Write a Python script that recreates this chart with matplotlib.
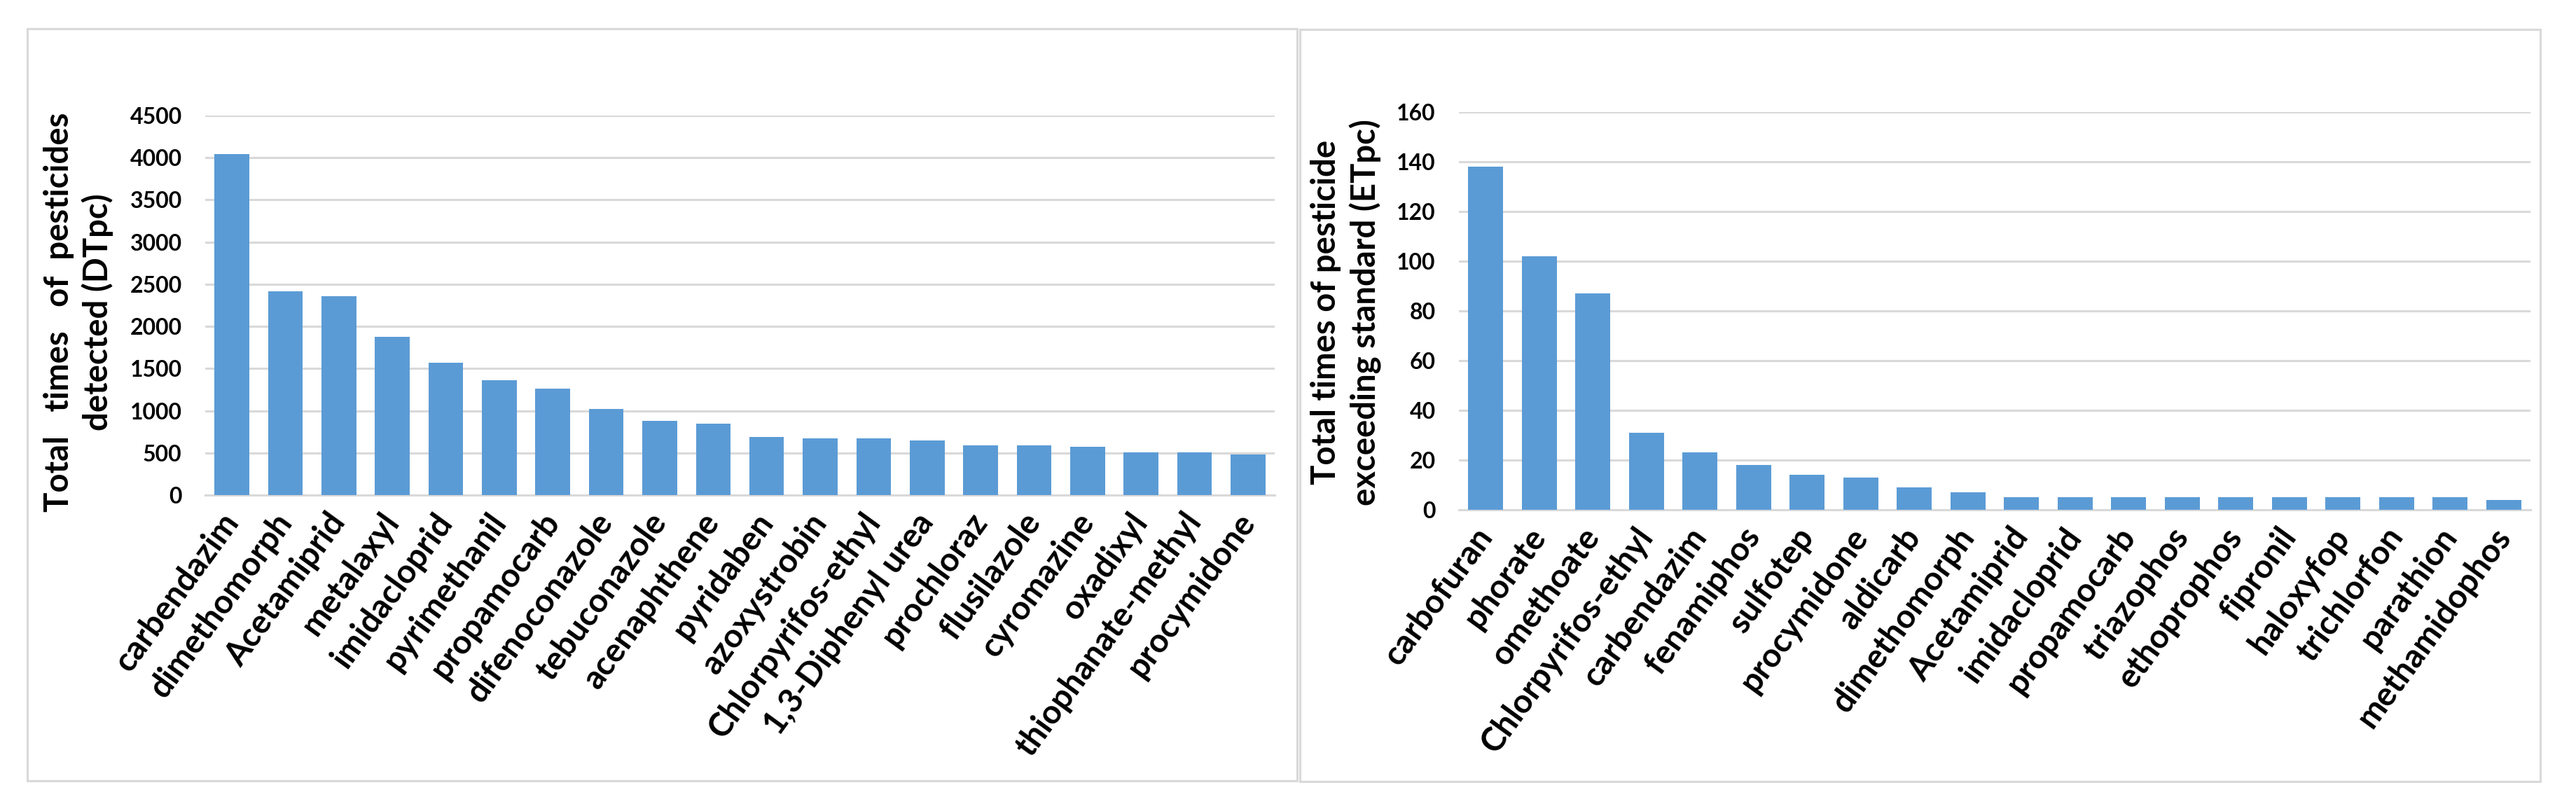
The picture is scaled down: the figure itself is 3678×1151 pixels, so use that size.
import numpy as np
import matplotlib
matplotlib.use("Agg")
from matplotlib import pyplot as plt
from matplotlib.patches import Rectangle

plt.rcParams['font.family'] = ['Lato', 'DejaVu Sans']

# detected times (DTpc)
det_names = ["carbendazim", "dimethomorph", "Acetamiprid", "metalaxyl", "imidacloprid",
             "pyrimethanil", "propamocarb", "difenoconazole", "tebuconazole", "acenaphthene",
             "pyridaben", "azoxystrobin", "Chlorpyrifos-ethyl", "1,3-Diphenyl urea", "prochloraz",
             "flusilazole", "cyromazine", "oxadixyl", "thiophanate-methyl", "procymidone"]
det_vals = [4045, 2420, 2360, 1875, 1570, 1360, 1265, 1020, 880, 845,
            685, 670, 670, 650, 590, 590, 572, 505, 505, 478]

# exceeding standard times (ETpc)
exc_names = ["carbofuran", "phorate", "omethoate", "Chlorpyrifos-ethyl", "carbendazim",
             "fenamiphos", "sulfotep", "procymidone", "aldicarb", "dimethomorph",
             "Acetamiprid", "imidacloprid", "propamocarb", "triazophos", "ethoprophos",
             "fipronil", "haloxyfop", "trichlorfon", "parathion", "methamidophos"]
exc_vals = [138, 102, 87, 31, 23, 18, 14, 13, 9, 7,
            5, 5, 5, 5, 5, 5, 5, 5, 5, 4]

W, H = 3678, 1151
fig = plt.figure(figsize=(W / 100, H / 100), dpi=100)

bar_col = "#5B9BD5"
grid_col = "#D9D9D9"

# panel frames
fig.add_artist(Rectangle((39 / W, 1 - 1115 / H), (1852 - 39) / W, (1115 - 41) / H,
                         transform=fig.transFigure, fill=False, ec=grid_col, lw=2.2))
fig.add_artist(Rectangle((1856 / W, 1 - 1116 / H), (3627 - 1856) / W, (1116 - 42) / H,
                         transform=fig.transFigure, fill=False, ec=grid_col, lw=2.2))


def panel(rect, names, vals, ymax, step):
    ax = fig.add_axes(rect)
    x = np.arange(len(names))
    ax.bar(x, vals, width=0.65, color=bar_col, zorder=3)
    ax.set_xlim(-0.5, len(names) - 0.5)
    ax.set_ylim(0, ymax)
    ax.set_yticks(np.arange(0, ymax + 1, step))
    ax.yaxis.grid(True, color=grid_col, lw=2.2, zorder=0)
    ax.set_axisbelow(True)
    for s in ["top", "right", "left"]:
        ax.spines[s].set_visible(False)
    ax.spines["bottom"].set_color(grid_col)
    ax.spines["bottom"].set_linewidth(2.2)
    ax.tick_params(axis="y", length=0, pad=24, labelsize=23)
    ax.tick_params(axis="x", length=0, pad=22)
    ax.set_xticks(x)
    ax.set_xticklabels(names, rotation=54, ha="right", va="center",
                       rotation_mode="anchor", fontsize=34, fontweight="bold")
    for t in ax.get_yticklabels():
        t.set_fontweight("bold")
    return ax


panel([293 / W, 1 - 707 / H, (1820 - 293) / W, (707 - 165) / H],
      det_names, det_vals, 4500, 500)
panel([2083 / W, 1 - 728 / H, (3613 - 2083) / W, (728 - 160) / H],
      exc_names, exc_vals, 160, 20)

fig.text(112 / W, 1 - 446 / H, "Total   times   of  pesticides\ndetected (DTpc)",
         rotation=90, ha="center", va="center", multialignment="center",
         fontsize=34, fontweight="bold", linespacing=1.3)
fig.text(1922 / W, 1 - 446 / H, "Total times of pesticide\nexceeding standard (ETpc)",
         rotation=90, ha="center", va="center", multialignment="center",
         fontsize=34, fontweight="bold", linespacing=1.3)

fig.savefig("out.png", dpi=100, facecolor="white")
